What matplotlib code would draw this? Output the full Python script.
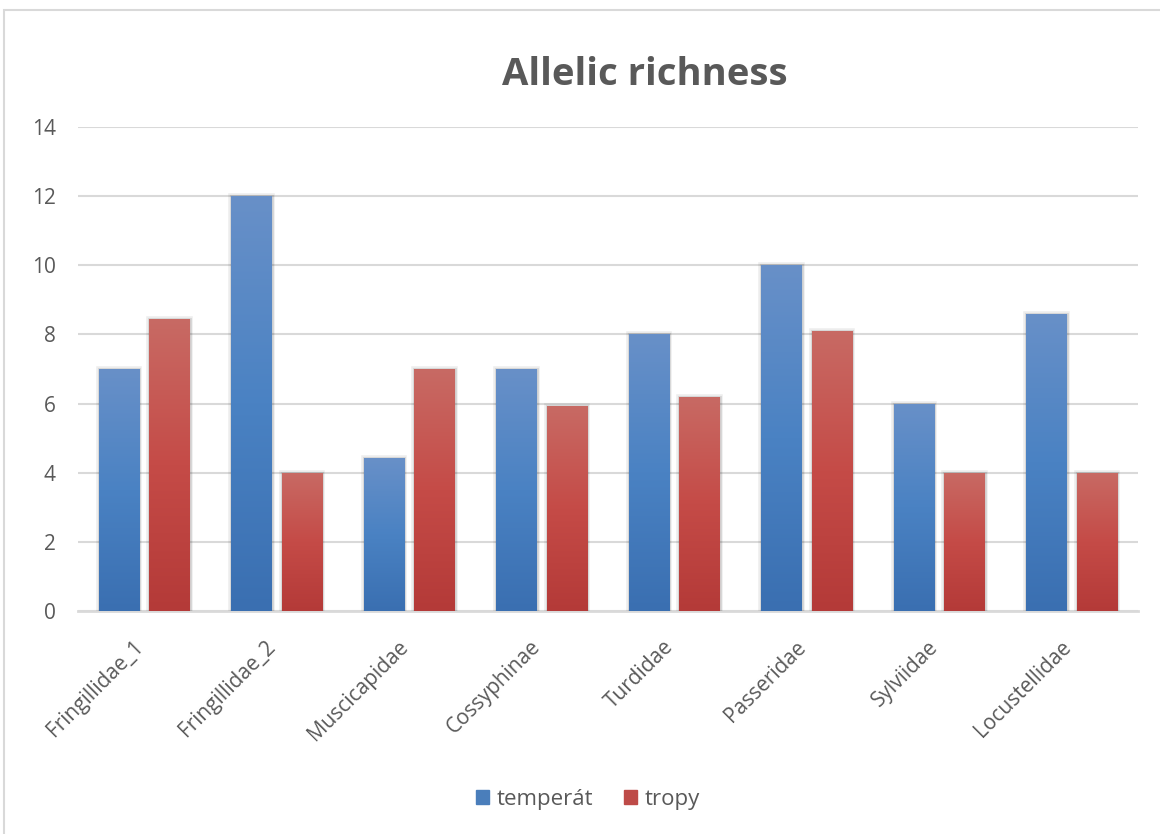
import numpy as np
import matplotlib
matplotlib.use("Agg")
import matplotlib.pyplot as plt
from matplotlib.colors import LinearSegmentedColormap
from matplotlib.patches import Rectangle
from matplotlib.transforms import ScaledTranslation, blended_transform_factory
import matplotlib.patheffects as pe

categories = ["Fringillidae_1", "Fringillidae_2", "Muscicapidae", "Cossyphinae",
              "Turdidae", "Passeridae", "Sylviidae", "Locustellidae"]
temperat = [7.0, 12.0, 4.42, 7.0, 8.0, 10.0, 6.0, 8.6]
tropy = [8.44, 4.0, 7.0, 5.92, 6.2, 8.1, 4.0, 4.0]
series_names = ["temperát", "tropy"]
yticks = [0, 2, 4, 6, 8, 10, 12, 14]

plt.rcParams['font.family'] = ['Open Sans', 'DejaVu Sans']
W, H = 1160, 834
fig = plt.figure(figsize=(W / 100, H / 100), dpi=100)
fig.patch.set_facecolor("white")

# chart border
fig.add_artist(Rectangle((3.5 / W, -0.1), 1.2, 1.1 - 10 / H, transform=fig.transFigure,
                         fill=False, edgecolor="#D9D9D9", linewidth=1.5))

ax = fig.add_axes([78 / W, 1 - 611 / H, (1138 - 78) / W, (611 - 127) / H])

x = np.arange(len(categories))
bw = 0.306
gap = 0.075
off = (bw + gap) / 2

blue_cmap = LinearSegmentedColormap.from_list("b", ["#3A6FB1", "#4A82C3", "#6890C8"])
red_cmap = LinearSegmentedColormap.from_list("r", ["#B43A38", "#C54B47", "#C86A64"])
grad = np.linspace(0, 1, 256).reshape(-1, 1)

glow = [pe.Stroke(linewidth=4, foreground="#000000", alpha=0.07),
        pe.Stroke(linewidth=2, foreground="#000000", alpha=0.10),
        pe.Normal()]

for vals, dx, cmap, base in [(temperat, -off, blue_cmap, "#4A7EBB"),
                             (tropy, off, red_cmap, "#BE4B48")]:
    bars = ax.bar(x + dx, vals, width=bw, color=base, zorder=3, path_effects=glow)
    for b in bars:
        x0, y0 = b.get_x(), b.get_y()
        w, h = b.get_width(), b.get_height()
        im = ax.imshow(grad, cmap=cmap, origin="lower", aspect="auto",
                       extent=[x0, x0 + w, y0, y0 + h], zorder=4)
        im.set_clip_path(b)
ax.set_xlim(-0.5, len(categories) - 0.5)
ax.set_ylim(0, 14)

ax.set_yticks(yticks)
ax.set_yticklabels([str(t) for t in yticks], fontsize=15, color="#595959")
ax.set_xticks(x)
ax.set_xticklabels([])
trans = blended_transform_factory(ax.transData, ax.transAxes) + \
    ScaledTranslation(-4 / 100, -33 / 100, fig.dpi_scale_trans)
for xi, cat in zip(x, categories):
    ax.text(xi, 0, cat, transform=trans, rotation=45, ha="right", va="center",
            rotation_mode="anchor", fontsize=15, color="#595959", clip_on=False)
ax.tick_params(axis="both", length=0)
ax.tick_params(axis="y", pad=16)
ax.grid(axis="y", color="#D9D9D9", linewidth=1.5, zorder=0)
ax.set_axisbelow(True)
for s in ["top", "right", "left"]:
    ax.spines[s].set_visible(False)
ax.spines["bottom"].set_color("#D9D9D9")
ax.spines["bottom"].set_linewidth(2)

fig.text(645 / W, 1 - 75 / H, "Allelic richness", ha="center", va="center",
         fontsize=27.5, fontweight="bold", color="#595959")

handles = [Rectangle((0, 0), 1, 1, color="#4A7EBB"), Rectangle((0, 0), 1, 1, color="#BE4B48")]
fig.legend(handles, series_names, loc="center", bbox_to_anchor=(588 / W, 1 - 799 / H),
           ncol=2, frameon=False, fontsize=16, labelcolor="#595959",
           handlelength=0.6, handleheight=0.6, handletextpad=0.35, columnspacing=1.35)

fig.savefig("out.png", dpi=100, facecolor="white")
